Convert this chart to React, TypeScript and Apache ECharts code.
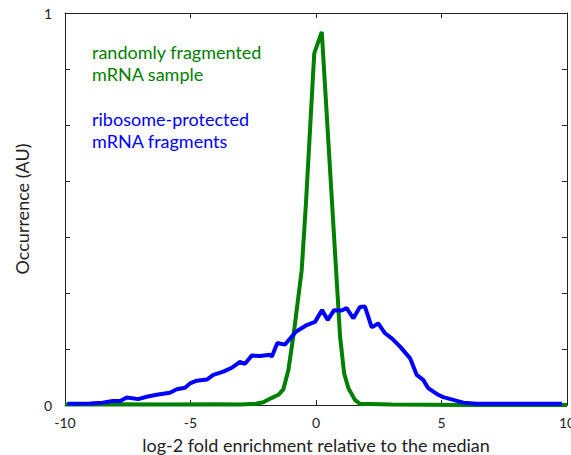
import React, { useEffect, useRef } from "react";
import * as echarts from "echarts";

// log-2 fold enrichment (x) and occurrence in arbitrary units (y)
const randomX = [-10, -8, -6, -4, -3, -2.4, -2.1, -1.8, -1.5, -1.3, -1.1, -0.87, -0.57, -0.4, -0.07, 0.23, 0.96, 1.12, 1.29, 1.55, 1.75, 3, 6, 10];
const randomY = [0.001, 0.002, 0.001, 0.002, 0.001, 0.003, 0.007, 0.017, 0.026, 0.04, 0.089, 0.191, 0.344, 0.515, 0.897, 0.952, 0.174, 0.081, 0.043, 0.013, 0.003, 0.001, 0.0, 0.0];

const riboX = [-9.9, -9.0, -8.5, -8.1, -7.8, -7.54, -7.08, -6.75, -6.35, -5.82, -5.55, -5.22, -5.02, -4.75, -4.35, -4.09, -3.69, -3.36, -3.03, -2.83, -2.56, -2.23, -1.83, -1.76, -1.54, -1.24, -0.8, -0.37, -0.04, 0.24, 0.47, 0.72, 1.02, 1.22, 1.49, 1.75, 1.95, 2.22, 2.48, 2.75, 3.02, 3.35, 3.75, 4.01, 4.27, 4.47, 4.87, 5.07, 5.47, 5.87, 6.4, 9.8];
const riboY = [0.003, 0.004, 0.006, 0.01, 0.01, 0.019, 0.015, 0.021, 0.026, 0.031, 0.04, 0.044, 0.055, 0.062, 0.065, 0.077, 0.085, 0.095, 0.11, 0.105, 0.126, 0.125, 0.128, 0.123, 0.158, 0.154, 0.187, 0.204, 0.212, 0.242, 0.217, 0.242, 0.241, 0.247, 0.221, 0.25, 0.251, 0.198, 0.208, 0.183, 0.17, 0.149, 0.119, 0.077, 0.064, 0.043, 0.026, 0.02, 0.013, 0.006, 0.003, 0.003];

const xTicks = [-10, -5, 0, 5, 10];
const yTickLabels = ["0", "1"];

const GREEN = "#008000";
const BLUE = "#0000ff";
const FONT = "Lato";

export default function App() {
  const ref = useRef<HTMLDivElement>(null);

  useEffect(() => {
    if (!ref.current) return;
    const chart = echarts.init(ref.current, null, { renderer: "svg" });

    const pairs = (xs: number[], ys: number[]) => xs.map((x, i) => [x, ys[i]]);
    const axisLine = { show: true, onZero: false, lineStyle: { color: "#222", width: 1 } };
    const tick = { show: true, inside: true, length: 5, lineStyle: { color: "#222", width: 1 } };
    const xMin = xTicks[0];
    const xMax = xTicks[xTicks.length - 1];
    const xStep = xTicks[1] - xTicks[0];

    chart.setOption({
      animation: false,
      grid: { left: 65, right: 4, top: 13, bottom: 50, containLabel: false, outerBoundsMode: "none" },
      xAxis: [
        {
          type: "value",
          position: "bottom",
          min: xMin,
          max: xMax,
          interval: xStep,
          axisLine,
          axisTick: tick,
          splitLine: { show: false },
          axisLabel: { color: "#222", fontFamily: FONT, fontSize: 14, margin: 10, hideOverlap: false },
          name: "log-2 fold enrichment relative to the median",
          nameLocation: "middle",
          nameGap: 31,
          nameTextStyle: { color: "#222", fontFamily: FONT, fontSize: 18 },
        },
        {
          type: "value",
          position: "top",
          min: xMin,
          max: xMax,
          interval: xStep,
          axisLine,
          axisTick: tick,
          splitLine: { show: false },
          axisLabel: { show: false },
        },
      ],
      yAxis: [
        {
          type: "value",
          position: "left",
          min: 0,
          max: 1,
          interval: 1 / 7,
          axisLine,
          axisTick: tick,
          splitLine: { show: false },
          axisLabel: {
            color: "#222",
            fontFamily: FONT,
            fontSize: 14,
            margin: 13,
            formatter: (v: number) =>
              Math.abs(v) < 1e-6 ? yTickLabels[0] : Math.abs(v - 1) < 1e-6 ? yTickLabels[1] : "",
          },
          name: "Occurrence (AU)",
          nameLocation: "middle",
          nameGap: 34,
          nameTextStyle: { color: "#222", fontFamily: FONT, fontSize: 18 },
        },
        {
          type: "value",
          position: "right",
          min: 0,
          max: 1,
          interval: 1 / 7,
          axisLine,
          axisTick: tick,
          splitLine: { show: false },
          axisLabel: { show: false },
        },
      ],
      graphic: [
        {
          type: "text",
          left: 92,
          top: 41,
          style: {
            text: "randomly fragmented\nmRNA sample",
            fill: GREEN,
            font: `18px ${FONT}`,
            lineHeight: 22,
          },
        },
        {
          type: "text",
          left: 92,
          top: 108,
          style: {
            text: "ribosome-protected\nmRNA fragments",
            fill: BLUE,
            font: `18px ${FONT}`,
            lineHeight: 22,
          },
        },
      ],
      series: [
        {
          name: "randomly fragmented mRNA sample",
          type: "line",
          data: pairs(randomX, randomY),
          symbol: "none",
          lineStyle: { color: GREEN, width: 4 },
          z: 2,
        },
        {
          name: "ribosome-protected mRNA fragments",
          type: "line",
          data: pairs(riboX, riboY),
          symbol: "none",
          lineStyle: { color: BLUE, width: 4 },
          z: 3,
        },
      ],
    });

    return () => chart.dispose();
  }, []);

  return (
    <div
      ref={ref}
      style={{ position: "fixed", left: 0, top: 0, width: 571, height: 455, background: "#fff" }}
    />
  );
}
